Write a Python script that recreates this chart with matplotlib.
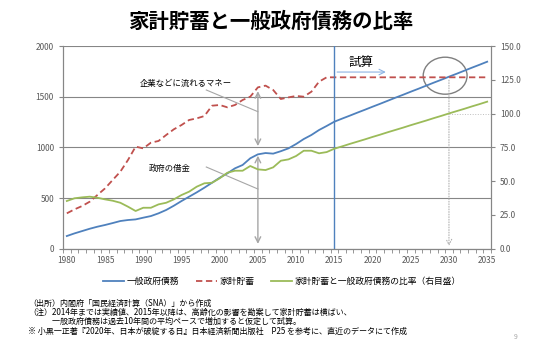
""" 家計貯蓄と一般政府債務の比率 """

import matplotlib
matplotlib.use("Agg")
import matplotlib.pyplot as plt
from matplotlib.patches import Ellipse
from matplotlib.ticker import FormatStrFormatter

plt.rcParams['font.family'] = ['Noto Sans CJK JP', 'DejaVu Sans']

TITLE = "家計貯蓄と一般政府債務の比率"

years = list(range(1980, 2036))

# 一般政府債務 (left axis)
debt = [125, 151, 174, 197, 217, 234, 253, 273, 283, 289,
        306, 322, 349, 382, 424, 470, 513, 556, 602, 651,
        700, 743, 793, 826, 892, 931, 944, 938, 962, 990,
        1033, 1082, 1122, 1171, 1211, 1253, 1283, 1312, 1342, 1371,
        1401, 1430, 1460, 1490, 1519, 1549, 1578, 1608, 1638, 1667,
        1697, 1726, 1756, 1786, 1815, 1845]

# 家計貯蓄 (left axis)
savings = [349, 388, 421, 464, 530, 595, 678, 760, 875, 1007,
           990, 1046, 1063, 1122, 1178, 1220, 1270, 1286, 1309, 1411,
           1418, 1395, 1418, 1467, 1500, 1592, 1609, 1566, 1477, 1493,
           1507, 1500, 1549, 1648, 1691, 1691, 1691, 1691, 1691, 1691,
           1691, 1691, 1691, 1691, 1691, 1691, 1691, 1691, 1691, 1691,
           1691, 1691, 1691, 1691, 1691, 1691]

# 比率 (right axis)
ratio = [35.3, 37.3, 38.0, 38.5, 37.7, 36.5, 35.5, 34.0, 31.1, 27.9,
         30.3, 30.3, 32.8, 34.0, 36.5, 39.7, 42.2, 45.9, 48.4, 48.8,
         52.1, 56.2, 57.7, 57.7, 61.2, 58.7, 58.2, 60.2, 65.1, 66.1,
         68.6, 72.5, 72.5, 70.6, 71.5, 74.0, 75.7, 77.5, 79.2, 80.9,
         82.7, 84.4, 86.2, 87.9, 89.6, 91.4, 93.1, 94.8, 96.6, 98.3,
         100.1, 101.8, 103.5, 105.3, 107.0, 108.8]

LEGEND = ["一般政府債務", "家計貯蓄", "家計貯蓄と一般政府債務の比率（右目盛）"]

NOTES = [
    "（出所）内閣府「国民経済計算（SNA）」から作成",
    "（注）2014年までは実績値、2015年以降は、高齢化の影響を勘案して家計貯蓄は横ばい、",
    "　　　一般政府債務は過去10年間の平均ペースで増加すると仮定して試算。",
    "※ 小黒一正著『2020年、日本が破綻する日』日本経済新聞出版社　P25 を参考に、直近のデータにて作成",
]

BLUE = "#4F81BD"
RED = "#C0504D"
GREEN = "#9BBB59"
GRAY = "#868686"
TICK = "#595959"

fig = plt.figure(figsize=(5.54, 3.51), dpi=100)
ax = fig.add_axes([63 / 554, 1 - 248.7 / 351, 428 / 554, 202.7 / 351])
ax2 = ax.twinx()

# lines
l1, = ax.plot(years, debt, color=BLUE, lw=1.3)
l2, = ax.plot(years, savings, color=RED, lw=1.3, ls=(0, (3.5, 2)))
l3, = ax2.plot(years, ratio, color=GREEN, lw=1.3)

ax.set_xlim(1979.5, 2035.5)
ax.set_ylim(0, 2000)
ax2.set_ylim(0, 150)
ax.set_yticks(range(0, 2001, 500))
ax2.set_yticks([0, 25, 50, 75, 100, 125, 150])
ax2.yaxis.set_major_formatter(FormatStrFormatter('%.1f'))
ax.set_xticks(range(1980, 2036, 5))
ax.set_xticks([y + 0.5 for y in range(1979, 2036)], minor=True)
ax.tick_params(axis='x', which='major', length=0, labelsize=6, colors=TICK, pad=5)
ax.tick_params(axis='x', which='minor', length=3, color=GRAY, direction='out')
ax.tick_params(axis='y', length=3, color=GRAY, labelsize=6, labelcolor=TICK)
ax2.tick_params(axis='y', length=3, color=GRAY, labelsize=6, labelcolor=TICK)

for a in (ax, ax2):
    a.spines['top'].set_visible(False)
    for s in ('left', 'right', 'bottom'):
        a.spines[s].set_color(GRAY)
        a.spines[s].set_linewidth(0.8)

ax.grid(axis='y', color=GRAY, lw=0.8)
ax.set_axisbelow(True)

# projection marker
ax.axvline(2015, color=BLUE, lw=1.0)
ax.text(2016.8, 1842, "試算", fontsize=9, va='center', ha='left')
ax.annotate("", xy=(2022.1, 1743), xytext=(2015, 1743),
            arrowprops=dict(arrowstyle='->', color="#8EB4E3", lw=0.8))

# circle around 2030
ax.add_patch(Ellipse((2029.5, 1707), 5.74, 365, fill=False, ec="#7F7F7F", lw=1.0))
ax.annotate("", xy=(2030, 0), xytext=(2030, 1691),
            arrowprops=dict(arrowstyle='->', color="#A6A6A6", lw=0.7, ls=':'))
ax2.plot([2030, 2035.5], [100, 100], color="#BFBFBF", lw=0.7, ls=':')

# double arrows at 2005
ax.annotate("", xy=(2005, 985), xytext=(2005, 1582),
            arrowprops=dict(arrowstyle='<->', color="#A6A6A6", lw=1.0))
ax.annotate("", xy=(2005, 20), xytext=(2005, 945),
            arrowprops=dict(arrowstyle='<->', color="#A6A6A6", lw=1.0))

# labels with leader lines
ax.text(1995.5, 1635, "企業などに流れるマネー", fontsize=6, ha='center', va='center')
ax.plot([1998.25, 2005], [1566, 1352], color="#A6A6A6", lw=0.8)
ax.text(1993.4, 796, "政府の借金", fontsize=6, ha='center', va='center')
ax.plot([1998.25, 2005], [806, 589], color="#A6A6A6", lw=0.8)

# title
fig.text(271 / 554, 1 - 21 / 351, TITLE, fontsize=14.7, fontweight='bold',
         ha='center', va='center')

# legend
fig.legend([l1, l2, l3], LEGEND, loc='center', ncol=3,
           bbox_to_anchor=(282 / 554, 1 - 281.7 / 351), frameon=False,
           fontsize=6.3, handlelength=2.4, columnspacing=1.9, handletextpad=0.3)

# notes
for i, line in enumerate(NOTES):
    fig.text(28 / 554, 1 - (303 + i * 9.4) / 351, line, fontsize=5.8,
             ha='left', va='center')
fig.text(516 / 554, 1 - 337 / 351, "9", fontsize=5, color="#A6A6A6",
         ha='center', va='center')

fig.savefig("out.png", dpi=100)
